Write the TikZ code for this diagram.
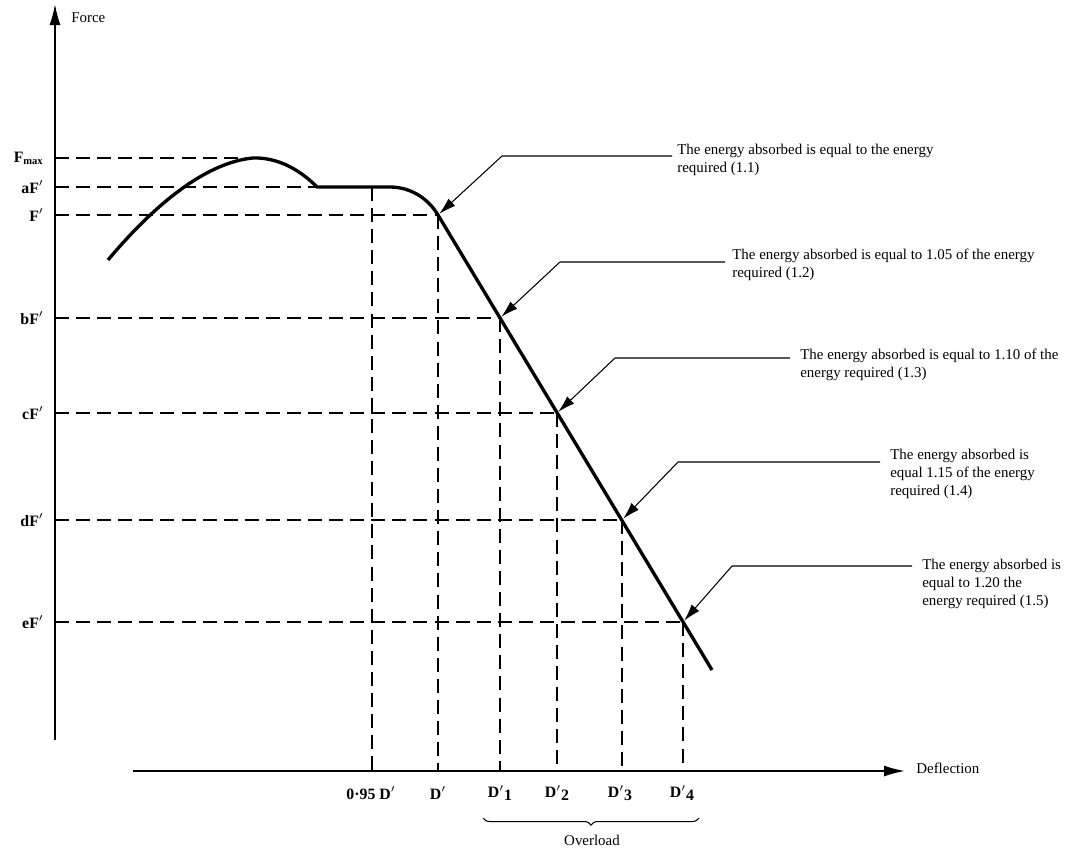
\documentclass[tikz,border=0pt]{standalone}
\usepackage{fontspec}
\setmainfont{Liberation Serif}
\usetikzlibrary{arrows.meta,decorations.pathreplacing}

\tikzset{
  axis/.style={line width=1pt,-{Latex[length=0.42cm,width=0.22cm]}},
  guide/.style={line width=0.9pt,dash pattern=on 8pt off 4pt},
  curve/.style={line width=1.9pt,line join=round},
  callout/.style={line width=0.6pt,shorten >=1pt,-{Latex[length=0.34cm,width=0.2cm]}},
  lab/.style={font=\fontsize{8.5}{10.2}\selectfont,inner sep=0pt},
  note/.style={lab,anchor=north west,align=left},
  ylab/.style={font=\bfseries\fontsize{9}{10}\selectfont,anchor=east,inner sep=0pt},
  xlab/.style={font=\bfseries\fontsize{9}{10}\selectfont,inner sep=0pt},
  overbrace/.style={line width=0.6pt,decorate,decoration={brace,mirror,amplitude=4pt}}
}

\begin{document}
\begin{tikzpicture}[x=0.02cm,y=-0.02cm]
    \useasboundingbox (0,0) rectangle (1073,850);

    % 坐标轴
    \coordinate (O) at (55,740);
    \coordinate (ytop) at (55,4);
    \coordinate (xl) at (133,771);
    \coordinate (xr) at (905,771);
    \draw[axis] (O) -- (ytop);
    \draw[axis] (xl) -- (xr);
    \node[lab,anchor=west] (force) at (71,18) {Force};
    \node[lab,anchor=west] (defl) at (916,768) {Deflection};

    % 曲线上的点
    \coordinate (p0) at (108,260);
    \coordinate (pk) at (253,158);
    \coordinate (pa) at (317,187);
    \coordinate (pb) at (390,187);
    \coordinate (q0) at (372,187);
    \coordinate (q1) at (438,215);
    \coordinate (q2) at (500,318);
    \coordinate (q3) at (557,413);
    \coordinate (q4) at (622,520);
    \coordinate (q5) at (683,622);
    \coordinate (pe) at (712,670);

    % 力轴上的点
    \coordinate (yFm) at (55,158);
    \coordinate (yaF) at (55,187);
    \coordinate (yF) at (55,215);
    \coordinate (ybF) at (55,318);
    \coordinate (ycF) at (55,413);
    \coordinate (ydF) at (55,520);
    \coordinate (yeF) at (55,622);

    % 变形轴上的点
    \coordinate (x0) at (372,771);
    \coordinate (x1) at (438,771);
    \coordinate (x2) at (500,771);
    \coordinate (x3) at (557,771);
    \coordinate (x4) at (622,771);
    \coordinate (x5) at (683,771);

    % 虚线
    \draw[guide] (yFm) -- (pk);
    \draw[guide] (yaF) -- (q0);
    \draw[guide] (yF) -- (q1);
    \draw[guide] (ybF) -- (q2);
    \draw[guide] (ycF) -- (q3);
    \draw[guide] (ydF) -- (q4);
    \draw[guide] (yeF) -- (q5);
    \draw[guide] (q0) -- (x0);
    \draw[guide] (q1) -- (x1);
    \draw[guide] (q2) -- (x2);
    \draw[guide] (q3) -- (x3);
    \draw[guide] (q4) -- (x4);
    \draw[guide] (q5) -- (x5);

    % 力-变形曲线
    \draw[curve] (p0) .. controls (160,198) and (210,162) .. (pk)
        .. controls (285,157) and (308,178) .. (pa) -- (pb)
        .. controls (410,187) and (428,198) .. (q1) -- (pe);

    % 纵轴标注
    \node[ylab] (lFm) at (44,158) {F\textsubscript{max}};
    \node[ylab] (laF) at (44,187) {aF$'$};
    \node[ylab] (lF) at (44,215) {F$'$};
    \node[ylab] (lbF) at (44,318) {bF$'$};
    \node[ylab] (lcF) at (44,413) {cF$'$};
    \node[ylab] (ldF) at (44,520) {dF$'$};
    \node[ylab] (leF) at (44,622) {eF$'$};

    % 横轴标注
    \node[xlab] (l0) at (371,793) {0·95 D$'$};
    \node[xlab] (l1) at (438,793) {D$'$};
    \node[xlab] (l2) at (500,793) {D$'$\raisebox{-0.4ex}{1}};
    \node[xlab] (l3) at (557,793) {D$'$\raisebox{-0.4ex}{2}};
    \node[xlab] (l4) at (620,793) {D$'$\raisebox{-0.4ex}{3}};
    \node[xlab] (l5) at (682,793) {D$'$\raisebox{-0.4ex}{4}};

    % 过载
    \coordinate (ol) at (483,818);
    \coordinate (or) at (699,818);
    \draw[overbrace] (ol) -- (or);
    \node[lab] (over) at (592,840) {Overload};

    % 说明文字
    \node[note] (n1) at (677,144) {The energy absorbed is equal to the energy\\required (1.1)};
    \node[note] (n2) at (732,249) {The energy absorbed is equal to 1.05 of the energy\\required (1.2)};
    \node[note] (n3) at (800,349) {The energy absorbed is equal to 1.10 of the\\energy required (1.3)};
    \node[note] (n4) at (890,449) {The energy absorbed is\\equal 1.15 of the energy\\required (1.4)};
    \node[note] (n5) at (922,559) {The energy absorbed is\\equal to 1.20 the\\energy required (1.5)};

    % 引线
    \coordinate (k1) at (672,156);
    \coordinate (b1) at (502,156);
    \coordinate (k2) at (725,262);
    \coordinate (b2) at (560,262);
    \coordinate (k3) at (790,358);
    \coordinate (b3) at (615,358);
    \coordinate (k4) at (880,462);
    \coordinate (b4) at (678,462);
    \coordinate (k5) at (912,566);
    \coordinate (b5) at (732,566);
    \draw[callout] (k1) -- (b1) -- (q1);
    \draw[callout] (k2) -- (b2) -- (q2);
    \draw[callout] (k3) -- (b3) -- (q3);
    \draw[callout] (k4) -- (b4) -- (q4);
    \draw[callout] (k5) -- (b5) -- (q5);
\end{tikzpicture}
\end{document}
